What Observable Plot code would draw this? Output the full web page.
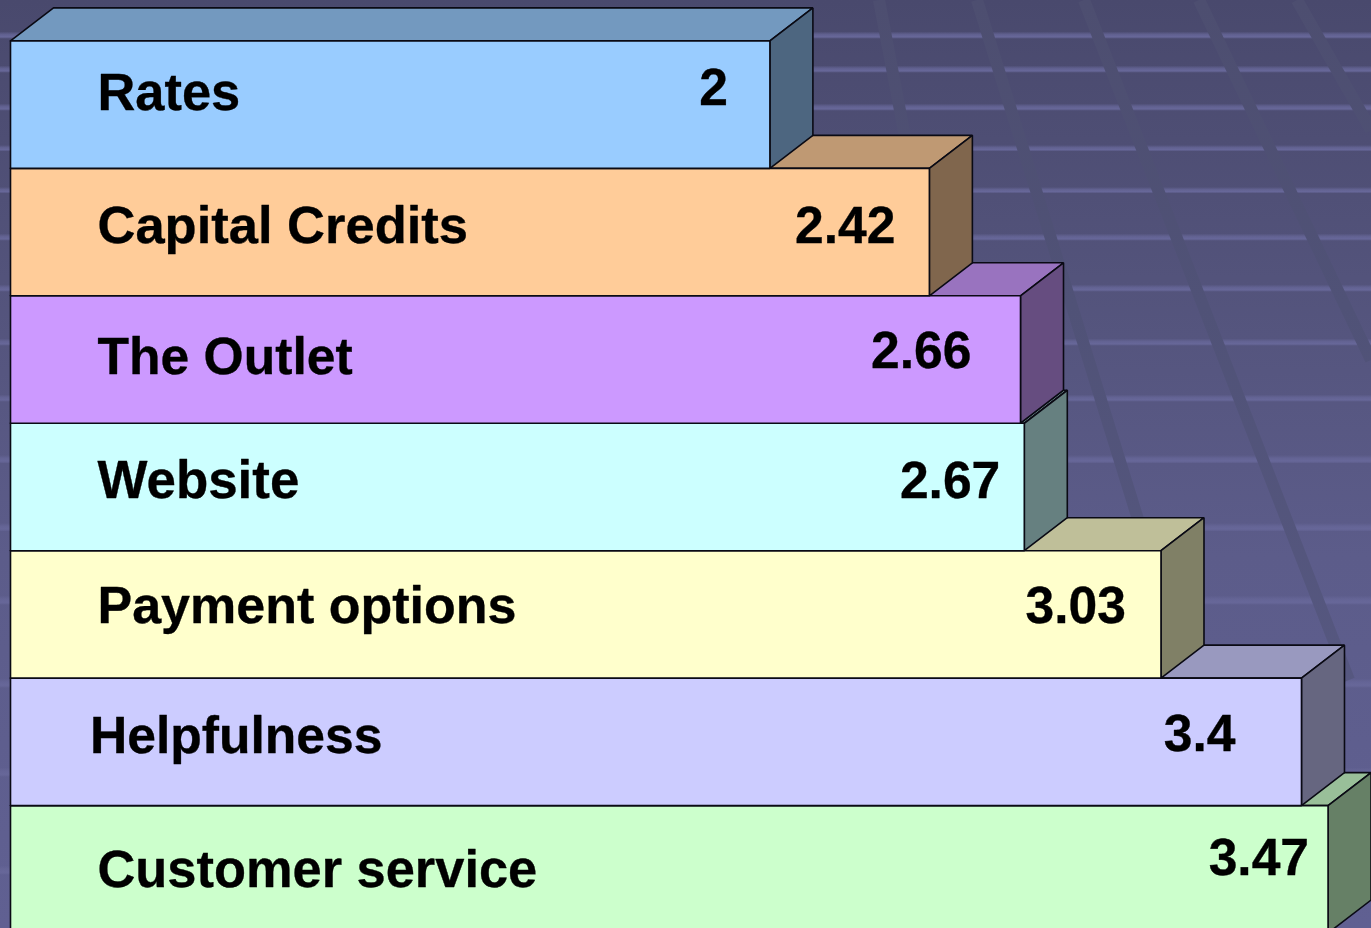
<!DOCTYPE html>
<html>
<head>
<meta charset="utf-8">
<script src="https://cdn.jsdelivr.net/npm/d3@7"></script>
<script src="https://cdn.jsdelivr.net/npm/@observablehq/plot@0.6"></script>
<style>
html,body{margin:0;padding:0;width:1371px;height:928px;overflow:hidden;background:#50507a}
#chart{position:absolute;left:0;top:0;width:1371px;height:928px}
#chart svg{display:block;background:transparent}
</style>
</head>
<body>
<div id="chart"></div>
<script>
// Chart data
const categories = ["Rates","Capital Credits","The Outlet","Website","Payment options","Helpfulness","Customer service"];
const values = [2,2.42,2.66,2.67,3.03,3.4,3.47];
const frontColors = ["#99ccff","#ffcc99","#cc99ff","#ccffff","#ffffcc","#ccccff","#ccffcc"];

// Hand placement of the labels, relative to each bar (pixels)
const nameDx = [87,87,87,87,87,79.5,87];
const nameDy = [-11.5,-5.9,-2.35,-5.8,-8.25,-5.7,0.8];
const nameSize = [52.4,52.5,51.6,52.9,52,51.6,52.4];
const valueDx = [-42,-34,-49,-24,-35,-66,-19];
const valueDy = [-16.4,-5.8,-8.25,-5.7,-8.15,-7.6,-11.1];

// Decorative backdrop of the slide
const bandY = [35,69,107,148,190,237,288,342,398,459,527,600,683,772,870];
const bandH = [7,7,7,6,6,7,7,7,7,8,8,9,9,9,9];
const diagonals = [[879,0,955,400],[977,0,1194,700],[1084,0,1349,680],[1199,0,1371,360],[1297,0,1371,130]];

const W = 1371, H = 928;
const unitPx = 379.7, rowPx = 127.45, x0 = 10, y0 = 40.4;
const depthX = 43 / unitPx, depthY = 33 / rowPx;

function backdrop() {
  const bands = bandY.map((y,i)=>`<rect x="0" y="${y-bandH[i]/2}" width="${W}" height="${bandH[i]}" fill="url(#b)"/>`).join("");
  const diags = diagonals.map(d=>`<line x1="${d[0]}" y1="${d[1]}" x2="${d[2]}" y2="${d[3]}" stroke="url(#d)" stroke-width="12"/>`).join("");
  const s = `<svg xmlns="http://www.w3.org/2000/svg" width="${W}" height="${H}"><defs>`+
   `<linearGradient id="g" x1="0" y1="0" x2="0" y2="1"><stop offset="0" stop-color="#49496d"/><stop offset="0.3" stop-color="#53537b"/><stop offset="0.6" stop-color="#5c5c8a"/><stop offset="1" stop-color="#606092"/></linearGradient>`+
   `<linearGradient id="b" x1="0" y1="0" x2="0" y2="1"><stop offset="0" stop-color="#676799" stop-opacity="0"/><stop offset="0.4" stop-color="#676799" stop-opacity="0.75"/><stop offset="0.75" stop-color="#676799" stop-opacity="1"/><stop offset="1" stop-color="#676799" stop-opacity="0.35"/></linearGradient>`+
   `<linearGradient id="d" gradientUnits="userSpaceOnUse" x1="0" y1="0" x2="0" y2="${H}"><stop offset="0" stop-color="#4d4e70"/><stop offset="0.33" stop-color="#505277"/><stop offset="1" stop-color="#5a5b86"/></linearGradient>`+
   `</defs><rect width="${W}" height="${H}" fill="url(#g)"/>${bands}${diags}</svg>`;
  return `url("data:image/svg+xml,${encodeURIComponent(s)}")`;
}
document.getElementById("chart").style.backgroundImage = backdrop();

// Each bar = front, top and side faces. Lowest bar first so upper sides overlap lower tops.
const faces = [];
categories.map((c,i)=>i).reverse().forEach(i=>{
  const v = values[i], col = frontColors[i];
  const shade = k => { const c = d3.rgb(col); return d3.rgb(c.r*k,c.g*k,c.b*k).formatHex(); };
  const add = (name,color,pts)=>[...pts,pts[0]].forEach(p=>faces.push({id:i+name,color,x:p[0],y:p[1]}));
  add("top",shade(0.75),[[0,i],[depthX,i-depthY],[v+depthX,i-depthY],[v,i]]);
  add("side",shade(0.5),[[v,i],[v+depthX,i-depthY],[v+depthX,i+1-depthY],[v,i+1]]);
  add("front",col,[[0,i],[v,i],[v,i+1],[0,i+1]]);
});

const fontBase = {fontFamily:"'Liberation Sans',Arial,sans-serif",fontWeight:"bold",fill:"#000",stroke:"#000",strokeWidth:0.35};
const nameMarks = categories.map((c,i)=>Plot.text([c],{x:()=>0,y:()=>i+0.5,text:d=>d,textAnchor:"start",dx:nameDx[i],dy:nameDy[i],fontSize:nameSize[i],...fontBase}));
const valueMarks = values.map((v,i)=>Plot.text([v],{x:d=>d,y:()=>i+0.5,text:d=>String(d),textAnchor:"end",dx:valueDx[i],dy:valueDy[i],fontSize:51.6,...fontBase}));

const plot = Plot.plot({
  width:W,height:H,
  marginLeft:0,marginRight:0,marginTop:0,marginBottom:0,
  style:{background:"transparent"},
  x:{domain:[0,(W-x0)/unitPx],range:[x0,W],axis:null},
  y:{domain:[0,(H-y0)/rowPx],range:[y0,H],axis:null},
  color:{type:"identity"},
  marks:[
    Plot.line(faces,{x:"x",y:"y",z:"id",fill:"color",stroke:"#0a0a14",strokeWidth:1.6,strokeLinejoin:"miter",curve:"linear"}),
    ...nameMarks,
    ...valueMarks
  ]
});
document.getElementById("chart").appendChild(plot);
</script>
</body>
</html>
